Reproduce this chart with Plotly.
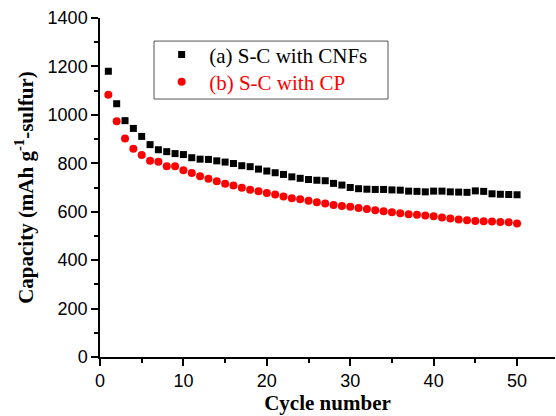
import plotly.graph_objects as go

cycles = list(range(1, 51))

cnf_capacity = [1180, 1046, 976, 944, 911, 877, 856, 848, 840, 836,
                823, 817, 816, 810, 805, 799, 790, 786, 776, 768,
                761, 754, 744, 738, 733, 730, 728, 717, 710, 700,
                695, 693, 692, 692, 690, 689, 685, 684, 682, 685,
                685, 682, 681, 680, 686, 684, 674, 672, 671, 670]

cp_capacity = [1083, 974, 902, 860, 834, 810, 806, 788, 788, 771,
               760, 746, 736, 726, 716, 708, 699, 691, 684, 677,
               671, 663, 656, 651, 645, 639, 634, 628, 624, 620,
               615, 611, 606, 602, 598, 594, 590, 587, 584, 581,
               576, 572, 568, 565, 562, 561, 560, 558, 556, 551]

series_names = ["(a) S-C with CNFs", "(b) S-C with CP"]

x_ticks = [0, 10, 20, 30, 40, 50]
y_ticks = [0, 200, 400, 600, 800, 1000, 1200, 1400]

fig = go.Figure()
fig.add_trace(go.Scatter(
    x=cycles, y=cnf_capacity, mode="markers", name=series_names[0],
    marker=dict(symbol="square", size=7, color="black", line=dict(width=0)),
    legend="legend",
))
fig.add_trace(go.Scatter(
    x=cycles, y=cp_capacity, mode="markers",
    name="<span style='color:#ff0000'>" + series_names[1] + "</span>",
    marker=dict(symbol="circle", size=8, color="#ff0000", line=dict(width=0)),
    legend="legend2",
))

axis_common = dict(
    showline=True, linecolor="black", linewidth=1.5,
    ticks="outside", ticklen=7, tickwidth=1.5, tickcolor="black",
    showgrid=False, zeroline=False, mirror=False,
    tickfont=dict(family="Liberation Sans, Arial, sans-serif", size=18, color="black"),
)

fig.update_xaxes(
    range=[0, 54.55], tickvals=x_ticks, ticktext=[str(v) for v in x_ticks],
    minor=dict(ticks="outside", ticklen=4, tickwidth=1.5, tickcolor="black", dtick=5, tick0=0),
    title=dict(text="Cycle number", standoff=4,
               font=dict(family="Liberation Serif, Times New Roman, serif", size=21, color="black",
                         weight="bold")),
    **axis_common,
)
fig.update_yaxes(
    range=[0, 1400], tickvals=y_ticks, ticktext=[str(v) for v in y_ticks],
    minor=dict(ticks="outside", ticklen=4, tickwidth=1.5, tickcolor="black", dtick=100, tick0=0),
    title=dict(text="Capacity (mAh g<sup>-1</sup>-sulfur)", standoff=8,
               font=dict(family="Liberation Serif, Times New Roman, serif", size=21, color="black",
                         weight="bold")),
    **axis_common,
)

legend_common = dict(
    xanchor="left", yanchor="middle",
    bgcolor="rgba(0,0,0,0)", borderwidth=0,
    font=dict(family="Liberation Serif, Times New Roman, serif", size=21, color="black"),
    itemwidth=45,
)

fig.update_layout(
    width=556, height=416,
    margin=dict(l=100, r=1, t=18, b=59, autoexpand=False),
    plot_bgcolor="white", paper_bgcolor="white",
    showlegend=True,
    legend=dict(x=0.119, y=0.891, **legend_common),
    legend2=dict(x=0.119, y=0.811, **legend_common),
    shapes=[dict(type="rect", xref="paper", yref="paper",
                 x0=0.1187, x1=0.633, y0=0.761, y1=0.932,
                 line=dict(color="#555555", width=1), fillcolor="white", layer="below")],
)

fig.write_html("out.html")
